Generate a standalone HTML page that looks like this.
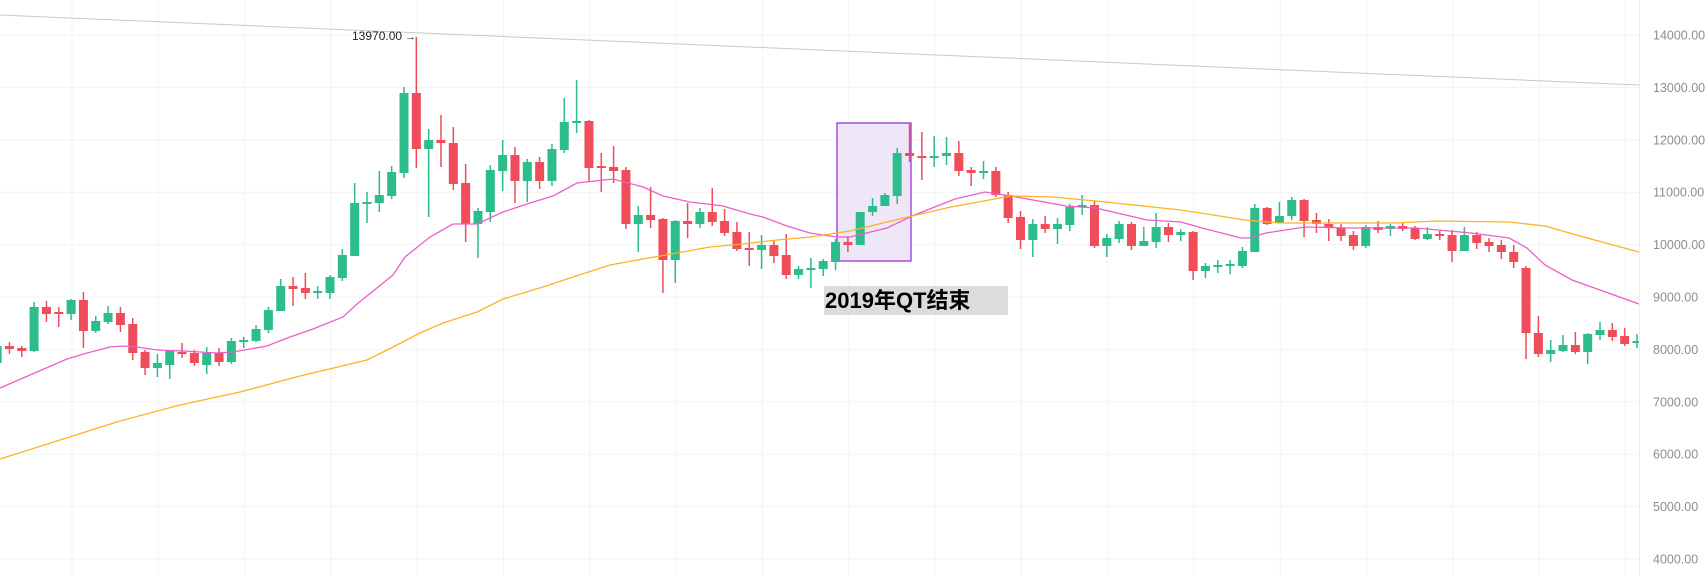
<!DOCTYPE html>
<html><head><meta charset="utf-8"><style>
html,body{margin:0;padding:0;background:#fff;width:1707px;height:576px;overflow:hidden}
svg{display:block}
</style></head><body>
<svg id="s" width="1707" height="576" xmlns="http://www.w3.org/2000/svg">
<defs><clipPath id="c"><rect x="0" y="0" width="1639" height="576"/></clipPath></defs>
<g id="grid" stroke="#f3f3f3" stroke-width="1"></g>
<line x1="1639.5" y1="0" x2="1639.5" y2="576" stroke="#eeeeee"/>
<line x1="0" y1="15" x2="1639" y2="85" stroke="#c8c8c8" stroke-width="1"/>
<rect x="837" y="123" width="74" height="138" fill="#efe6f8" stroke="#9a34e0" stroke-width="1.3"/>
<g id="cd" clip-path="url(#c)"></g>
<g clip-path="url(#c)" fill="none" stroke-width="1.3">
<polyline id="pk" stroke="#ec5fc8"/>
<polyline id="or" stroke="#fbb324"/>
</g>
<rect x="824" y="286" width="184" height="29" fill="#dcdcdc"/>
<text x="825" y="308" font-family="Liberation Sans, Noto Sans CJK SC, sans-serif" font-size="22" font-weight="bold" fill="#000">2019年QT结束</text>
<text x="352" y="40" font-family="Liberation Sans, sans-serif" font-size="12" fill="#222">13970.00</text>
<text x="405" y="40" font-family="Liberation Sans, sans-serif" font-size="11" fill="#222">→</text>
<g id="ax" font-family="Liberation Sans, sans-serif" font-size="12.5" fill="#8a8e99"></g>
</svg>
<script>
var NS="http://www.w3.org/2000/svg";
function el(p,t,a){var e=document.createElementNS(NS,t);for(var k in a)e.setAttribute(k,a[k]);p.appendChild(e);return e;}
var g=document.getElementById('grid'),ax=document.getElementById('ax');
for(var v=14000;v>=4000;v-=1000){var y=35+(14000-v)*0.0524;el(g,'line',{x1:0,x2:1639,y1:y,y2:y});
var t=el(ax,'text',{x:1653,y:y+4.5});t.textContent=v.toFixed(2);}
for(var x=72;x<1639;x+=86.3){el(g,'line',{x1:x,x2:x,y1:0,y2:576});}
var D="g 346 363 340 366|r 346 349 342 354|r 348 351 346 357|g 307 351 302 352|r 307 314 301 322|r 312 314 307 327|g 300 314 299 320|r 300 331 292 348|g 321 331 316 333|g 313 322 306 324|r 313 325 307 332|r 324 353 318 360|r 352 368 350 375|g 363 368 354 377|g 351 365 350 379|r 352 354 343 358|r 353 363 350 366|g 353 365 347 374|r 353 362 348 366|g 341 362 338 364|g 340 342 337 348|g 329 341 325 342|g 310 330 307 333|g 286 311 279 311|r 286 289 277 306|r 288 293 273 299|g 291 292 286 299|g 277 293 275 299|g 255 278 249 281|g 203 256 183 256|g 202 204 192 223|g 195 203 171 212|g 172 196 166 199|g 93 173 87 178|r 93 149 37 168|g 140 149 129 217|r 140 143 115 167|r 143 184 127 190|r 183 224 164 242|g 211 224 208 258|g 170 212 165 222|g 155 171 140 191|r 155 181 147 203|g 162 181 159 202|r 162 181 157 189|g 149 181 144 186|g 122 150 98 153|g 121 123 80 133|r 121 168 120 182|r 166 168 153 192|r 167 171 146 183|r 170 224 167 229|g 215 224 206 252|r 215 220 187 228|r 219 260 218 293|g 221 260 220 283|r 221 224 203 238|g 212 224 208 228|r 212 222 188 226|r 221 233 209 236|r 232 249 222 251|r 248 250 232 266|g 245 250 235 269|r 245 256 240 263|r 255 275 234 279|g 269 275 266 279|g 268 269 258 288|g 261 269 259 276|g 242 262 239 270|r 242 245 237 252|g 212 245 212 245|g 206 212 198 216|g 195 206 193 206|g 153 196 148 204|r 153 156 123 162|r 156 158 132 180|g 156 158 136 167|g 153 156 137 165|r 153 171 141 176|r 170 173 167 186|g 171 173 161 179|r 171 195 167 197|r 195 218 192 223|r 217 240 211 249|g 224 240 219 257|r 224 229 216 233|g 224 229 218 244|g 207 225 204 231|g 205 207 195 215|r 205 246 201 248|g 238 246 234 257|g 224 239 221 243|r 224 246 222 250|g 241 246 227 246|g 227 242 213 248|r 227 235 223 242|g 232 235 229 241|r 232 271 231 280|g 266 271 263 278|g 265 267 260 273|g 264 265 260 274|g 251 266 247 268|g 208 252 204 252|r 208 224 207 225|g 216 223 202 223|g 200 216 197 220|r 200 221 199 237|r 220 224 213 233|r 224 228 219 241|r 228 236 224 241|r 235 246 231 250|g 227 246 225 248|r 227 230 221 233|g 226 229 224 236|r 226 229 223 231|r 228 239 226 240|g 234 239 227 240|r 234 236 231 240|r 235 251 230 262|g 235 251 227 251|r 235 243 232 249|r 242 246 238 252|r 245 252 240 259|r 252 262 245 268|r 268 333 266 359|r 333 354 316 357|g 350 354 340 362|g 345 351 335 352|r 345 352 332 354|g 334 352 333 364|g 330 335 322 340|r 330 337 323 341|r 336 344 328 346|g 341 343 334 348".split('|');
var cd=document.getElementById('cd');
D.forEach(function(s,i){var p=s.split(' ');var c=1637-12.33*(133-i);var col=p[0]=='g'?'#2dbd8d':'#ef4d5a';
var bt=+p[1],bb=+p[2],wt=+p[3],wb=+p[4];if(bb-bt<2){bb=bt+2;}
el(cd,'rect',{x:c-0.75,y:wt,width:1.5,height:wb-wt,fill:col});
el(cd,'rect',{x:c-4.5,y:bt,width:9,height:bb-bt,fill:col});});
document.getElementById('pk').setAttribute('points',"0,388 30,375 67,359 87,353 110,347 123,346 137,347 157,350 183,351 217,353 233,352 267,346 290,337 313,329 343,317 357,304 393,275 405,257 420,245 430,237 453,224 477,224 503,212 530,203 553,196 577,183 613,179 643,187 663,196 690,202 723,206 750,214 763,217 787,226 810,233 837,237 850,237 887,228 912,216 955,199 985,192 1011,196 1066,206 1096,208 1147,220 1181,222 1202,228 1241,238 1249,238 1266,233 1305,227 1352,228 1416,228 1471,233 1509,238 1527,248 1545,265 1572,280 1600,290 1639,304");
document.getElementById('or').setAttribute('points',"0,459 60,440 120,421 180,405 240,392 300,376 367,360 393,347 420,333 443,323 477,312 503,299 543,287 570,278 610,265 643,259 677,253 710,247 743,244 777,240 810,237 850,231 887,222 912,216 951,207 1011,196 1053,197 1096,201 1181,210 1245,220 1279,223 1394,223 1437,221 1509,222 1545,226 1580,236 1639,252");
</script>
</body></html>
